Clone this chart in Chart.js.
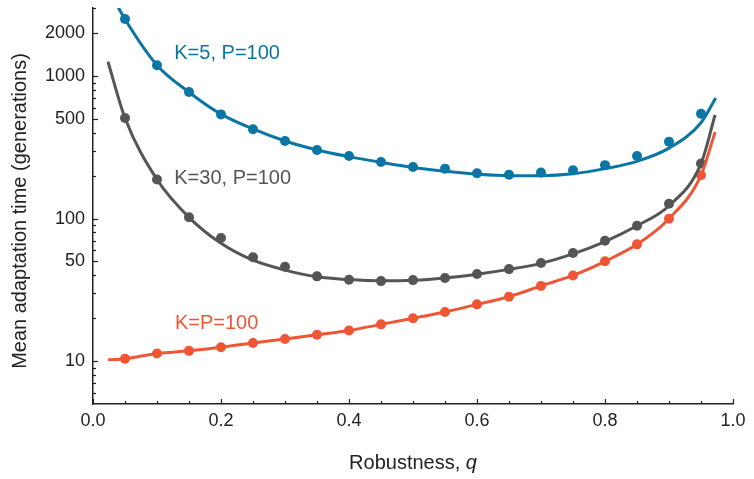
<!DOCTYPE html>
<html>
<head>
<meta charset="UTF-8">
<title>Mean adaptation time vs robustness</title>
<script src="https://cdn.jsdelivr.net/npm/chart.js"></script>
<style>
  html, body { margin: 0; padding: 0; background: #fff; }
  #wrap { width: 754px; height: 479px; position: relative; }
</style>
</head>
<body>
<div id="wrap"><canvas id="chart"></canvas></div>
<script>
// simulation points (q = 0.05 ... 0.95)
const qDots = [0.05, 0.10, 0.15, 0.20, 0.25, 0.30, 0.35, 0.40, 0.45, 0.50,
               0.55, 0.60, 0.65, 0.70, 0.75, 0.80, 0.85, 0.90, 0.95];
const blueDots = [2510, 1190, 773, 538, 423, 350, 303, 275, 249, 230,
                  224, 208, 203, 210, 218, 237, 275, 346, 543];
const greyDots = [507, 188, 102, 73, 53.5, 45.9, 39.3, 37.2, 36.4, 37,
                  38.3, 40.8, 44.2, 48.8, 57.3, 69.9, 89, 127, 243];
const redDots = [10.4, 11.3, 11.8, 12.5, 13.4, 14.3, 15.3, 16.4, 18.1, 20.0,
                 22.1, 25.0, 28.3, 33.7, 39.9, 50.1, 65.9, 99.8, 201];

// theory curves
const blueCurveQ = [0.035, 0.05, 0.10, 0.15, 0.20, 0.25, 0.30, 0.35, 0.40, 0.45, 0.50,
                    0.55, 0.60, 0.65, 0.70, 0.75, 0.80, 0.85, 0.90, 0.95, 0.973];
const blueCurve = [3300, 2500, 1190, 770, 540, 425, 350, 303, 272, 248, 228,
                   215, 205, 200, 200, 206, 224, 252, 312, 470, 700];
const greyCurveQ = [0.0234, 0.05, 0.10, 0.15, 0.20, 0.25, 0.30, 0.35, 0.40, 0.45, 0.50,
                    0.55, 0.60, 0.65, 0.70, 0.75, 0.80, 0.85, 0.90, 0.95, 0.972];
const greyCurve = [1260, 507, 188, 102, 67, 51, 43.5, 39, 37.3, 36.6, 36.9,
                   38.3, 40.7, 44, 48.5, 56.5, 69, 89, 123, 243, 533];
const redCurveQ = [0.0234, 0.05, 0.10, 0.15, 0.20, 0.25, 0.30, 0.35, 0.40, 0.45, 0.50,
                   0.55, 0.60, 0.65, 0.70, 0.75, 0.80, 0.85, 0.90, 0.95, 0.972];
const redCurve = [10.2, 10.4, 11.3, 11.8, 12.5, 13.4, 14.3, 15.3, 16.4, 18.1, 20.0,
                  22.1, 25.0, 28.3, 33.7, 39.9, 50.1, 65.9, 99.8, 201, 404];

const yTicks = [6, 7, 8, 9, 10, 20, 30, 40, 50, 60, 70, 80, 90, 100, 200, 300, 400, 500,
                600, 700, 800, 900, 1000, 2000, 3000];
const yLabels = [10, 50, 100, 500, 1000, 2000];
const xTicks = [0, 0.05, 0.1, 0.15, 0.2, 0.25, 0.3, 0.35, 0.4, 0.45, 0.5,
                0.55, 0.6, 0.65, 0.7, 0.75, 0.8, 0.85, 0.9, 0.95, 1.0];
const xLabels = ['0.0', '0.2', '0.4', '0.6', '0.8', '1.0'];

const seriesNames = ['K=5, P=100', 'K=30, P=100', 'K=P=100'];
const seriesColors = ['#0b76a6', '#555555', '#ef5636'];
// where each series name sits (q, value at text middle)
const namePos = [[0.127, 1450], [0.127, 192], [0.128, 18.5]];

const BLUE = seriesColors[0], GREY = seriesColors[1], RED = seriesColors[2];
const FONT = '"Liberation Sans", Arial, Helvetica, sans-serif';

function pts(xs, ys) { return xs.map((x, i) => ({ x: x, y: ys[i] })); }

function curve(xs, ys, color) {
  return {
    data: pts(xs, ys), showLine: true, borderColor: color, borderWidth: 3,
    pointRadius: 0, cubicInterpolationMode: 'monotone', fill: false
  };
}
function dots(ys, color) {
  return {
    data: pts(qDots, ys), showLine: false, backgroundColor: color,
    borderColor: color, pointRadius: 5, pointBorderWidth: 0
  };
}

const extras = {
  id: 'extras',
  afterDraw(chart) {
    const ctx = chart.ctx;
    const xs = chart.scales.x, ys = chart.scales.y;
    const area = chart.chartArea;
    ctx.save();
    // inward tick marks
    ctx.strokeStyle = '#222';
    ctx.lineWidth = 1.2;
    yTicks.forEach(v => {
      const y = Math.round(ys.getPixelForValue(v)) + 0.5;
      const len = yLabels.includes(v) ? 5 : 3;
      ctx.beginPath();
      ctx.moveTo(area.left, y);
      ctx.lineTo(area.left + len, y);
      ctx.stroke();
    });
    xTicks.forEach((v, i) => {
      const x = Math.round(xs.getPixelForValue(v)) + 0.5;
      const len = i % 4 === 0 ? 5 : 3;
      ctx.beginPath();
      ctx.moveTo(x, area.bottom);
      ctx.lineTo(x, area.bottom - len);
      ctx.stroke();
    });
    // series names
    ctx.font = '20px ' + FONT;
    ctx.textBaseline = 'middle';
    ctx.textAlign = 'left';
    seriesNames.forEach((name, i) => {
      ctx.fillStyle = seriesColors[i];
      ctx.fillText(name, xs.getPixelForValue(namePos[i][0]), ys.getPixelForValue(namePos[i][1]));
    });
    // axis titles
    ctx.fillStyle = '#222';
    ctx.font = '20px ' + FONT;
    const a = 'Robustness, ';
    ctx.font = '20px ' + FONT;
    const wa = ctx.measureText(a).width;
    ctx.font = 'italic 20px ' + FONT;
    const wq = ctx.measureText('q').width;
    const cx = (area.left + area.right) / 2;
    const left = cx - (wa + wq) / 2;
    ctx.textAlign = 'left';
    ctx.textBaseline = 'middle';
    ctx.font = '20px ' + FONT;
    ctx.fillText(a, left, 463);
    ctx.font = 'italic 20px ' + FONT;
    ctx.fillText('q', left + wa, 463);
    ctx.font = '20px ' + FONT;
    ctx.translate(20, (area.top + area.bottom) / 2 + 5);
    ctx.rotate(-Math.PI / 2);
    ctx.textAlign = 'center';
    ctx.fillText('Mean adaptation time (generations)', 0, 0);
    ctx.restore();
  }
};

new Chart(document.getElementById('chart'), {
  type: 'scatter',
  data: {
    datasets: [
      curve(blueCurveQ, blueCurve, BLUE),
      curve(greyCurveQ, greyCurve, GREY),
      curve(redCurveQ, redCurve, RED),
      dots(blueDots, BLUE),
      dots(greyDots, GREY),
      dots(redDots, RED)
    ]
  },
  options: {
    responsive: true,
    maintainAspectRatio: false,
    animation: false,
    layout: { padding: { top: 8, right: 21, left: 0, bottom: 0 } },
    plugins: { legend: { display: false }, tooltip: { enabled: false } },
    scales: {
      x: {
        type: 'linear', min: 0, max: 1,
        grid: { display: false, drawTicks: false },
        border: { display: true, color: '#222', width: 1.5 },
        afterBuildTicks: s => { s.ticks = xTicks.map(v => ({ value: v })); },
        afterFit: s => { s.height = 75; s.paddingLeft = 0; s.paddingRight = 0; },
        ticks: {
          autoSkip: false, maxRotation: 0, padding: 6, color: '#222',
          font: { family: FONT, size: 18 },
          callback: (v, i) => (i % 4 === 0 ? xLabels[i / 4] : '')
        }
      },
      y: {
        type: 'logarithmic', min: 5, max: 3000,
        grid: { display: false, drawTicks: false },
        border: { display: true, color: '#222', width: 1.5 },
        afterBuildTicks: s => { s.ticks = yTicks.map(v => ({ value: v })); },
        afterFit: s => { s.width = 93; s.paddingTop = 0; s.paddingBottom = 0; },
        ticks: {
          autoSkip: false, padding: 8, color: '#222',
          font: { family: FONT, size: 18 },
          callback: v => (yLabels.includes(v) ? String(v) : '')
        }
      }
    }
  },
  plugins: [extras]
});
</script>
</body>
</html>
